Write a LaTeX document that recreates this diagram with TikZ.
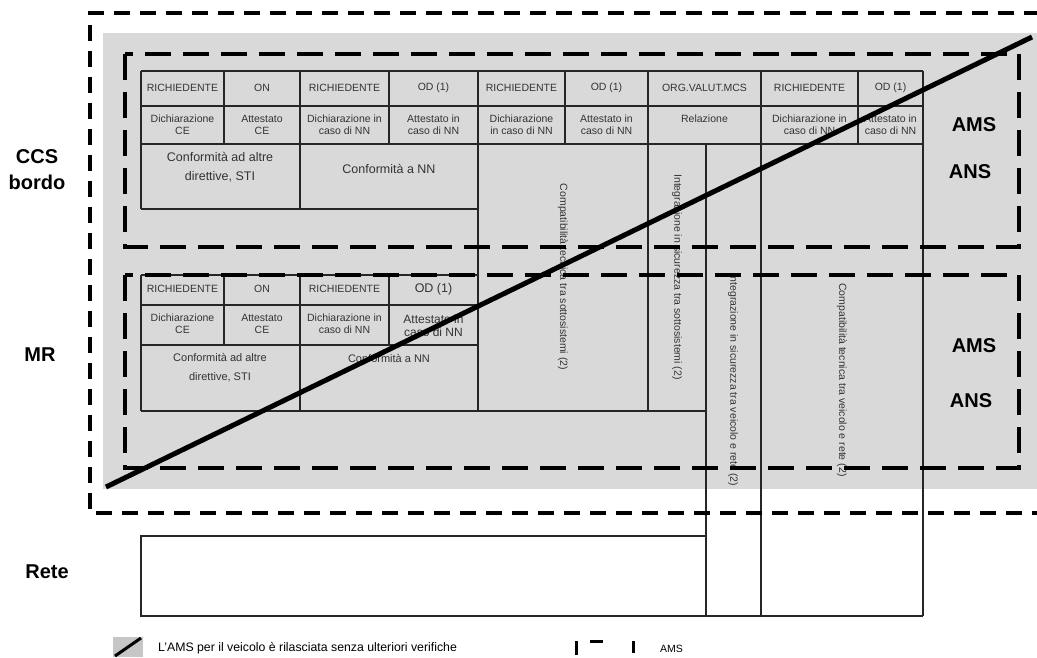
\documentclass[tikz,border=0pt]{standalone}
\usepackage{fontspec}
\setmainfont{Liberation Sans}
\definecolor{zonegray}{RGB}{217,217,217}
\begin{document}
\begin{tikzpicture}[
    x=1pt, y=-1pt,
    cell/.style={inner sep=0pt, align=center, text=black!80, font=\fontsize{10.5}{12}\selectfont},
    bigcell/.style={cell, font=\fontsize{12.5}{19}\selectfont},
    vcell/.style={cell, rotate=-90},
    tag/.style={inner sep=0pt, align=center, font=\bfseries\fontsize{20}{26}\selectfont},
    grid/.style={line width=1.3pt, black!85},
    zone/.style={line width=3.5pt, dash pattern=on 26pt off 12pt},
    frame/.style={line width=4pt, dash pattern=on 16pt off 10pt}
  ]
  \useasboundingbox (0,0) rectangle (1037,658);
  \fill[zonegray] (103,33) rectangle (1037,489);

  % upper table (CCS bordo)
  \draw[grid] (141,71) -- (923,71) (141,106) -- (923,106) (141,144) -- (923,144);
  \foreach \x in {224,389,565,858} \draw[grid] (\x,71) -- (\x,144);
  \draw[grid] (141,71) -- (141,209) (300,71) -- (300,209) (141,209) -- (478,209);
  \draw[grid] (478,71) -- (478,411) (648,71) -- (648,411);
  \draw[grid] (706,144) -- (706,616) (761,71) -- (761,616) (923,71) -- (923,616);

  % lower table (MR)
  \draw[grid] (141,275) -- (478,275) (141,305) -- (478,305) (141,345) -- (478,345) (141,411) -- (706,411);
  \draw[grid] (141,275) -- (141,411) (300,275) -- (300,411);
  \foreach \x in {224,389} \draw[grid] (\x,275) -- (\x,345);

  % rete
  \draw[grid] (706,536) -- (141,536) -- (141,616) -- (923,616);

  % upper texts
  \foreach \x/\t [count=\i] in {182.5/RICHIEDENTE, 262/ON, 344.5/RICHIEDENTE, 433.5/OD (1), 521.5/RICHIEDENTE,
      606.5/OD (1), 704.5/ORG.VALUT.MCS, 809.5/RICHIEDENTE, 890.5/OD (1)}
    \node[cell] (uh\i) at (\x,88) {\t};
  \foreach \x/\t [count=\i] in {182.5/{Dichiarazione\\CE}, 262/{Attestato\\CE}, 344.5/{Dichiarazione in\\caso di NN},
      433.5/{Attestato in\\caso di NN}, 521.5/{Dichiarazione\\in caso di NN}, 606.5/{Attestato in\\caso di NN},
      809.5/{Dichiarazione in\\caso di NN}, 890.5/{Attestato in\\caso di NN}}
    \node[cell] (ud\i) at (\x,125) {\t};
  \node[cell] (relazione) at (704.5,119) {Relazione};
  \node[bigcell] (uconf) at (220,167) {Conformità ad altre\\direttive, STI};
  \node[bigcell] (unn) at (389,169) {Conformità a NN};

  % lower texts
  \foreach \x/\t [count=\i] in {182.5/RICHIEDENTE, 262/ON, 344.5/RICHIEDENTE}
    \node[cell] (lh\i) at (\x,289) {\t};
  \node[bigcell] (lh4) at (433.5,289) {OD (1)};
  \foreach \x/\t [count=\i] in {182.5/{Dichiarazione\\CE}, 262/{Attestato\\CE}, 344.5/{Dichiarazione in\\caso di NN}}
    \node[cell] (ld\i) at (\x,324) {\t};
  \node[cell, font=\fontsize{12}{13}\selectfont] (ld4) at (433.5,326) {Attestato in\\caso di NN};
  \node[cell, font=\fontsize{11}{19}\selectfont] (lconf) at (220,368) {Conformità ad altre\\direttive, STI};
  \node[cell, font=\fontsize{11}{13}\selectfont] (lnn) at (389,359) {Conformità a NN};

  % vertical texts
  \node[vcell] (comps) at (563,277) {Compatibilità tecnica tra sottosistemi (2)};
  \node[vcell] (integs) at (677,277) {Integrazione in sicurezza tra sottosistemi (2)};
  \node[vcell] (integr) at (733,380) {Integrazione in sicurezza tra veicolo e rete (2)};
  \node[vcell] (compr) at (842,380) {Compatibilità tecnica tra veicolo e rete (2)};

  % dashed zones
  \draw[zone] (125,54) rectangle (1019,247);
  \draw[zone] (125,275) rectangle (1019,468);
  \draw[frame] (1040,13) -- (90,13) -- (90,513) -- (1040,513);

  % labels
  \node[tag] (ccs) at (37,170) {CCS\\bordo};
  \node[tag] (mr) at (40,355) {MR};
  \node[tag] (rete) at (47,572) {Rete};
  \node[tag] (amsA) at (974,125) {AMS};
  \node[tag] (ansA) at (970,172) {ANS};
  \node[tag] (amsB) at (974,346) {AMS};
  \node[tag] (ansB) at (971,401) {ANS};

  % diagonal
  \coordinate (diagA) at (106,487);
  \coordinate (diagB) at (1032,37);
  \draw[line width=5pt] (diagA) -- (diagB);

  % legend
  \fill[gray!45] (113,637) rectangle (143,657);
  \coordinate (keyA) at (115,656);
  \coordinate (keyB) at (141,638);
  \draw[line width=3pt] (keyA) -- (keyB);
  \node[cell, anchor=west, text=black, font=\fontsize{12.3}{14}\selectfont] (keytxt) at (158,648)
    {L'AMS per il veicolo è rilasciata senza ulteriori verifiche};
  \draw[line width=3pt] (576,641) -- (576,655) (590,641) -- (603,641) (633,641) -- (633,653);
  \node[cell, anchor=west, text=black, font=\fontsize{10.5}{12}\selectfont] (keyams) at (660,649) {AMS};
\end{tikzpicture}
\end{document}
